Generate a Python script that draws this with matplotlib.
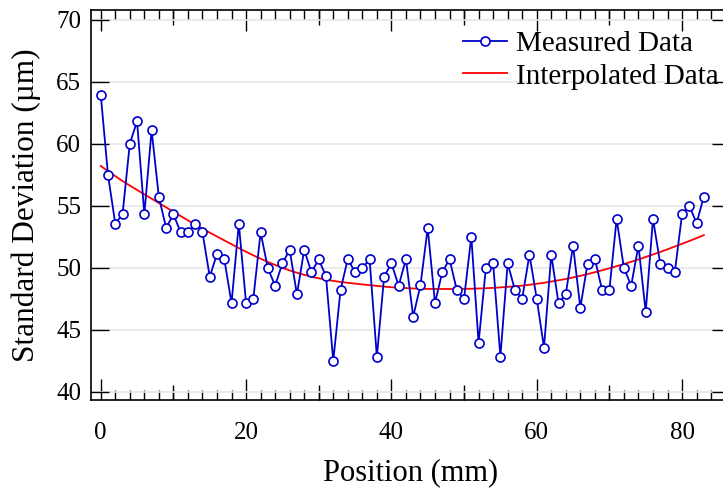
import matplotlib
matplotlib.use('Agg')
import matplotlib.pyplot as plt
from matplotlib.ticker import MultipleLocator, FixedLocator, NullFormatter

plt.rcParams['font.family'] = ['Liberation Serif', 'DejaVu Serif']

# measured standard deviation at each position (mm)
position = list(range(84))
measured = [
    63.95, 57.48, 53.55, 54.30, 60.00, 61.80, 54.30, 61.08, 55.70, 53.20,
    54.30, 52.85, 52.85, 53.55, 52.85, 49.27, 51.10, 50.70, 47.13, 53.55,
    47.15, 47.50, 52.85, 49.95, 48.55, 50.35, 51.43, 47.85, 51.43, 49.63,
    50.68, 49.30, 42.47, 48.20, 50.70, 49.63, 49.97, 50.68, 42.82, 49.27,
    50.35, 48.55, 50.68, 46.05, 48.58, 53.20, 47.15, 49.63, 50.68, 48.20,
    47.50, 52.50, 43.93, 49.97, 50.35, 42.82, 50.35, 48.20, 47.50, 51.05,
    47.50, 43.55, 51.05, 47.14, 47.85, 51.78, 46.77, 50.33, 50.70, 48.20,
    48.20, 53.93, 49.97, 48.55, 51.78, 46.43, 53.93, 50.33, 49.97, 49.63,
    54.30, 55.00, 53.58, 55.73,
]

# smooth trend
interpolated = [
    58.20, 57.79, 57.38, 56.98, 56.62, 56.26, 55.91, 55.56, 55.21, 54.86,
    54.51, 54.16, 53.81, 53.47, 53.14, 52.82, 52.51, 52.20, 51.89, 51.58,
    51.28, 50.99, 50.72, 50.46, 50.22, 49.99, 49.78, 49.59, 49.42, 49.27,
    49.14, 49.03, 48.93, 48.85, 48.78, 48.71, 48.65, 48.59, 48.53, 48.47,
    48.42, 48.38, 48.35, 48.32, 48.30, 48.29, 48.28, 48.28, 48.28, 48.28,
    48.29, 48.30, 48.32, 48.34, 48.37, 48.41, 48.45, 48.50, 48.55, 48.62,
    48.70, 48.78, 48.88, 48.98, 49.09, 49.21, 49.34, 49.48, 49.63, 49.79,
    49.95, 50.12, 50.29, 50.47, 50.66, 50.86, 51.06, 51.27, 51.48, 51.70,
    51.92, 52.15, 52.38, 52.62,
]

fig = plt.figure(figsize=(7.23, 4.91), dpi=100)
ax = fig.add_axes([91 / 723, 91 / 491, 639 / 723, 390 / 491])

ax.plot(position, measured, color='#0000cc', lw=1.3, marker='o', ms=6.5,
        mfc='white', mec='#0000cc', mew=1.2, label='Measured Data', zorder=3)
ax.plot(position, interpolated, color='red', lw=1.3, label='Interpolated Data', zorder=2)

ax.set_xlim(-1.34, 86.6)
ax.set_ylim(39.33, 70.77)

ax.xaxis.set_major_locator(MultipleLocator(20))
ax.xaxis.set_minor_locator(MultipleLocator(2))
ax.yaxis.set_major_locator(MultipleLocator(5))
ax.tick_params(axis='both', which='both', direction='in', top=True, right=True,
               width=1.0, color='black', labelsize=18)
ax.tick_params(axis='x', which='major', length=15, pad=16)
ax.tick_params(axis='x', which='minor', length=7)
ax.tick_params(axis='y', which='major', length=13, pad=7)

# medium ticks at the odd tens
for side in ('bottom', 'top'):
    sec = ax.secondary_xaxis(side)
    sec.xaxis.set_major_locator(FixedLocator([10, 30, 50, 70]))
    sec.xaxis.set_major_formatter(NullFormatter())
    sec.tick_params(direction='in', length=11, width=1.0)
    for s in sec.spines.values():
        s.set_visible(False)

ax.grid(axis='y', color='#e6e6e6', lw=1.2, zorder=0)
ax.set_axisbelow(True)
for s in ax.spines.values():
    s.set_linewidth(1.2)

ax.set_xlabel('Position (mm)', fontsize=22, labelpad=10)
ax.set_ylabel('Standard Deviation (µm)', fontsize=22.5, labelpad=11)

ax.legend(loc='upper right', bbox_to_anchor=(1.014, 1.0), frameon=False,
          fontsize=21, handlelength=1.5, handletextpad=0.3, labelspacing=0.22,
          borderpad=0.2)

fig.savefig('out.png', dpi=100)
